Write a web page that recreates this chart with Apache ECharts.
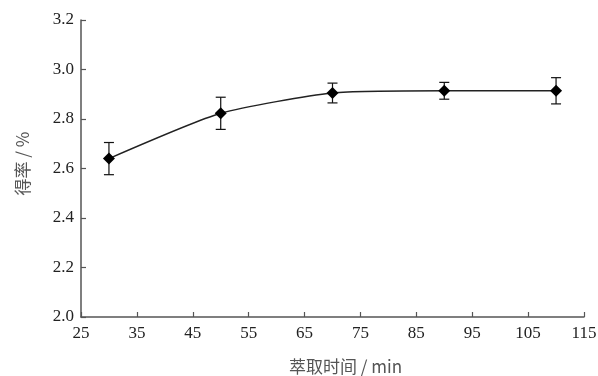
<!DOCTYPE html>
<html>
<head>
<meta charset="utf-8">
<script src="https://cdn.jsdelivr.net/npm/echarts@6/dist/echarts.min.js"></script>
<style>
  html, body { margin: 0; padding: 0; background: #fff; }
  #chart { width: 598px; height: 376px; }
</style>
</head>
<body>
<div id="chart"></div>
<script>
// extraction time (min), yield (%), error (+/-)
const times  = [30, 50, 70, 90, 110]
const yields = [2.64, 2.823, 2.905, 2.914, 2.914]
const errs   = [0.065, 0.065, 0.04, 0.034, 0.053]

const xTicks = { min: 25, max: 115, step: 10 }
const yTicks = { min: 2.0, max: 3.2, step: 0.2 }

const axisColor = '#555'
const textColor = '#222'
const nameColor = '#555'
const serif = 'Liberation Serif'
const cjk   = 'Noto Sans CJK SC'

const chart = echarts.init(document.getElementById('chart'))

const points = times.map((t, i) => [t, yields[i]])
const bars   = times.map((t, i) => [t, yields[i] - errs[i], yields[i] + errs[i]])

function renderErr(params, api) {
  const x  = api.value(0)
  const lo = api.coord([x, api.value(1)])
  const hi = api.coord([x, api.value(2)])
  const cap = 5
  const style = { stroke: '#111', lineWidth: 1.2 }
  return {
    type: 'group',
    children: [
      { type: 'line', shape: { x1: lo[0], y1: lo[1], x2: hi[0], y2: hi[1] }, style },
      { type: 'line', shape: { x1: hi[0] - cap, y1: hi[1], x2: hi[0] + cap, y2: hi[1] }, style },
      { type: 'line', shape: { x1: lo[0] - cap, y1: lo[1], x2: lo[0] + cap, y2: lo[1] }, style },
    ]
  }
}

chart.setOption({
  backgroundColor: '#fff',
  animation: false,
  grid: { left: 81, right: 14, top: 20, bottom: 59, outerBoundsMode: 'none', containLabel: false },
  xAxis: {
    type: 'value',
    min: xTicks.min,
    max: xTicks.max,
    interval: xTicks.step,
    name: '萃取时间 / min',
    nameLocation: 'middle',
    nameGap: 41,
    nameTextStyle: { color: nameColor, fontSize: 17, fontFamily: cjk, padding: [0, 0, 0, 26] },
    axisLine: { lineStyle: { color: axisColor, width: 1.5 } },
    axisTick: { inside: true, length: 5, lineStyle: { color: axisColor, width: 1.2 } },
    axisLabel: { color: textColor, fontSize: 17, fontFamily: serif, margin: 8 },
    splitLine: { show: false },
  },
  yAxis: {
    type: 'value',
    min: yTicks.min,
    max: yTicks.max,
    interval: yTicks.step,
    name: '得率 / %',
    nameLocation: 'middle',
    nameGap: 50,
    nameTextStyle: { color: nameColor, fontSize: 17, fontFamily: cjk, padding: [0, 0, 0, 10] },
    axisLine: { show: true, lineStyle: { color: axisColor, width: 1.5 } },
    axisTick: { show: true, inside: true, length: 5, lineStyle: { color: axisColor, width: 1.2 } },
    axisLabel: { color: textColor, fontSize: 17, fontFamily: serif, margin: 7, formatter: v => v.toFixed(1) },
    splitLine: { show: false },
  },
  series: [
    {
      type: 'line',
      data: points,
      smooth: 0.2,
      symbol: 'diamond',
      symbolSize: 12,
      itemStyle: { color: '#000' },
      lineStyle: { color: '#222', width: 1.5 },
      z: 3,
    },
    {
      type: 'custom',
      data: bars,
      renderItem: renderErr,
      encode: { x: 0, y: [1, 2] },
      z: 2,
    },
  ],
})
</script>
</body>
</html>
